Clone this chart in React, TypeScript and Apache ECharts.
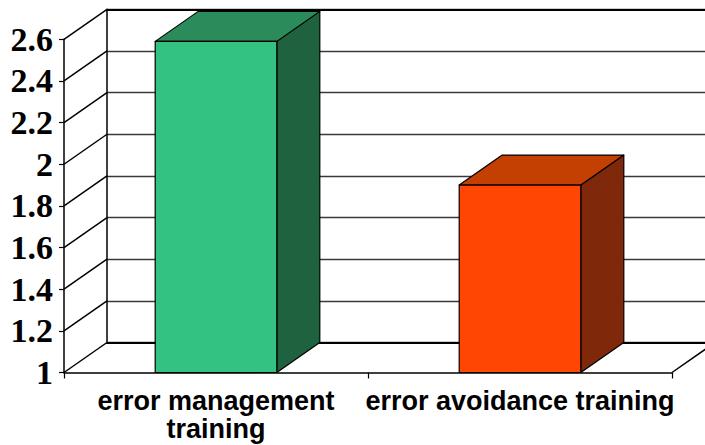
import React, { useEffect, useRef } from "react";
import * as echarts from "echarts";

// Chart data
const categories = ["error management\ntraining", "error avoidance training"];
const scores = [2.59, 1.9];
const yTicks = [1, 1.2, 1.4, 1.6, 1.8, 2, 2.2, 2.4, 2.6];
const Y_MIN = 1;
const Y_MAX = 2.6;
const Y_STEP = 0.2;

// Bar face colours (front, top, side)
const frontColors = ["#34C282", "#FF4703"];
const topColors = ["#2B8B5A", "#C43F02"];
const sideColors = ["#1F6240", "#80290A"];

// Perspective offset of the back wall relative to the front plane
const DX = 43;
const DY = -30;

const FRONT = { left: 64, right: 33, top: 39.3, bottom: 72.5 };

const fmt = (v: number) => String(Math.round(v * 10) / 10);

export default function App() {
  const ref = useRef<HTMLDivElement>(null);

  useEffect(() => {
    if (!ref.current) return;
    const chart = echarts.init(ref.current, null, { renderer: "svg" });

    const option: any = {
      animation: false,
      backgroundColor: "#ffffff",
      grid: [
        {
          left: FRONT.left,
          right: FRONT.right,
          top: FRONT.top,
          bottom: FRONT.bottom,
          containLabel: false,
          outerBoundsMode: "none",
        },
        {
          left: FRONT.left + DX,
          right: FRONT.right - DX,
          top: FRONT.top + DY,
          bottom: FRONT.bottom - DY,
          containLabel: false,
          outerBoundsMode: "none",
        },
      ],
      xAxis: [
        {
          type: "category",
          gridIndex: 0,
          data: categories,
          boundaryGap: true,
          axisLine: { show: true, lineStyle: { color: "#000", width: 1.5 } },
          axisTick: { show: true, length: 6, lineStyle: { color: "#000", width: 1.2 } },
          axisLabel: {
            interval: 0,
            hideOverlap: false,
            color: "#000",
            fontFamily: "Liberation Sans, Arial, sans-serif",
            fontWeight: "bold",
            fontSize: 27,
            lineHeight: 28,
            margin: 14,
          },
          splitLine: { show: false },
        },
        {
          type: "category",
          gridIndex: 1,
          data: categories,
          position: "bottom",
          axisLine: { show: true, lineStyle: { color: "#000", width: 2 } },
          axisTick: { show: false },
          axisLabel: { show: false },
          splitLine: { show: false },
        },
        {
          type: "category",
          gridIndex: 1,
          data: categories,
          position: "top",
          axisLine: { show: true, lineStyle: { color: "#000", width: 2 } },
          axisTick: { show: false },
          axisLabel: { show: false },
          splitLine: { show: false },
        },
      ],
      yAxis: [
        {
          type: "value",
          gridIndex: 0,
          min: Y_MIN,
          max: Y_MAX,
          interval: Y_STEP,
          axisLine: { show: true, lineStyle: { color: "#000", width: 1.5 } },
          axisTick: { show: true, length: 5, lineStyle: { color: "#000", width: 1.2 } },
          axisLabel: {
            formatter: fmt,
            color: "#000",
            fontFamily: "Liberation Serif, Times New Roman, serif",
            fontWeight: "bold",
            fontSize: 34,
            margin: 11,
          },
          splitLine: { show: false },
        },
        {
          type: "value",
          gridIndex: 1,
          min: Y_MIN,
          max: Y_MAX,
          interval: Y_STEP,
          axisLine: { show: true, lineStyle: { color: "#000", width: 1.5 } },
          axisTick: { show: false },
          axisLabel: { show: false },
          splitLine: { show: true, lineStyle: { color: "#3a3a3a", width: 1.3 } },
        },
      ],
      series: [
        {
          // left side wall: receding lines from each front tick to the back wall
          type: "custom",
          xAxisIndex: 0,
          yAxisIndex: 0,
          clip: false,
          z: 1,
          silent: true,
          data: yTicks.map((v) => [0, v]),
          renderItem: (params: any, api: any) => {
            const cs = params.coordSys;
            const y = api.coord([0, api.value(1)])[1];
            const x = cs.x;
            return {
              type: "line",
              shape: { x1: x, y1: y, x2: x + DX, y2: y + DY },
              style: { stroke: "#000", lineWidth: 1.5 },
            };
          },
        },
        {
          // right edge of the floor
          type: "custom",
          xAxisIndex: 0,
          yAxisIndex: 0,
          clip: false,
          z: 1,
          silent: true,
          data: [[0, Y_MIN]],
          renderItem: (params: any, api: any) => {
            const cs = params.coordSys;
            const y = api.coord([0, api.value(1)])[1];
            const x = cs.x + cs.width;
            return {
              type: "line",
              shape: { x1: x, y1: y, x2: x + DX, y2: y + DY },
              style: { stroke: "#000", lineWidth: 1.5 },
            };
          },
        },
        {
          // 3D bars
          type: "custom",
          xAxisIndex: 0,
          yAxisIndex: 0,
          clip: false,
          z: 5,
          data: scores.map((v, i) => [i, v]),
          renderItem: (params: any, api: any) => {
            const idx = api.value(0);
            const val = api.value(1);
            const topPt = api.coord([idx, val]);
            const basePt = api.coord([idx, Y_MIN]);
            const bw = api.size([1, 0])[0] * 0.4;
            const x0 = topPt[0] - bw / 2;
            const x1 = topPt[0] + bw / 2;
            const y0 = topPt[1];
            const y1 = basePt[1];
            const stroke = { stroke: "#000", lineWidth: 1.2, lineJoin: "round" };
            return {
              type: "group",
              children: [
                {
                  type: "polygon",
                  shape: {
                    points: [
                      [x1, y0],
                      [x1 + DX, y0 + DY],
                      [x1 + DX, y1 + DY],
                      [x1, y1],
                    ],
                  },
                  style: { fill: sideColors[idx], ...stroke },
                },
                {
                  type: "polygon",
                  shape: {
                    points: [
                      [x0, y0],
                      [x1, y0],
                      [x1 + DX, y0 + DY],
                      [x0 + DX, y0 + DY],
                    ],
                  },
                  style: { fill: topColors[idx], ...stroke },
                },
                {
                  type: "rect",
                  shape: { x: x0, y: y0, width: bw, height: y1 - y0 },
                  style: { fill: frontColors[idx], ...stroke },
                },
              ],
            };
          },
        },
      ],
    };

    chart.setOption(option);
    return () => chart.dispose();
  }, []);

  return (
    <div
      ref={ref}
      style={{ position: "fixed", left: 0, top: 0, width: 705, height: 445, background: "#fff" }}
    />
  );
}
